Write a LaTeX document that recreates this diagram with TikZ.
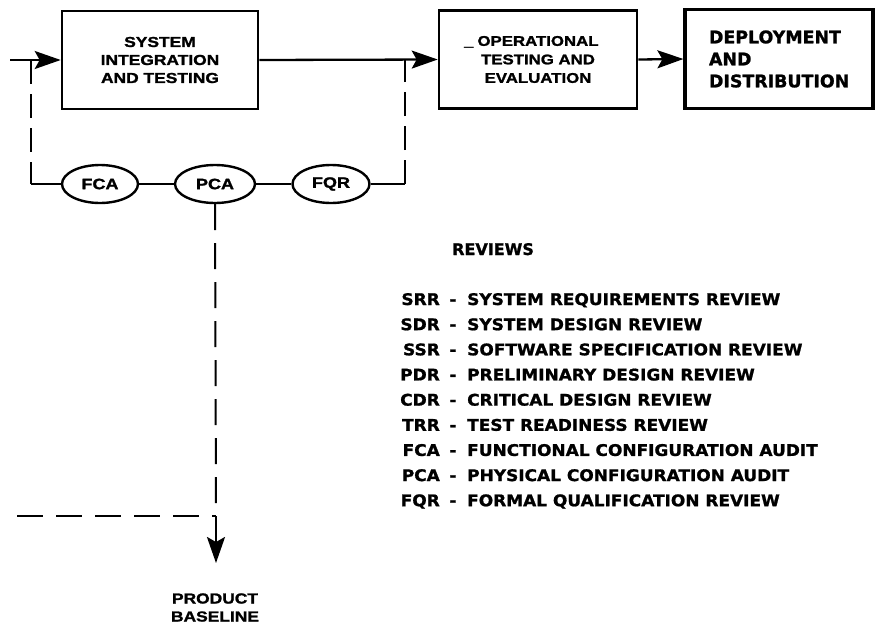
\documentclass[tikz,border=0pt]{standalone}
\usepackage{fontspec}
\setmainfont{Liberation Sans}
\newfontfamily\widefont{Liberation Sans}[FakeStretch=1.2,BoldFeatures={FakeBold=1.5}]
\newfontfamily\djv{DejaVu Sans}[BoldFeatures={FakeBold=1.2}]
\newfontfamily\djvw{DejaVu Sans}[FakeStretch=1.06,BoldFeatures={FakeBold=1.2}]
\usetikzlibrary{arrows.meta,shapes.geometric}
\tikzset{
  conn/.style={line width=2.3pt},
  tip/.style={-{Stealth[length=26pt,width=18pt,inset=5pt]}},
  dashv/.style={line width=2pt,dash pattern=on 24pt off 10pt},
  dashp/.style={line width=2pt,dash pattern=on 26pt off 13pt},
  box/.style={draw,line width=2.6pt,inner sep=0pt,align=center},
  ell/.style={draw,ellipse,line width=2.4pt,inner sep=0pt,minimum height=38pt,
     font=\widefont\bfseries\fontsize{15}{16}\selectfont},
  legfont/.style={inner sep=0pt,font=\djvw\bfseries\fontsize{16}{18}\selectfont},
  legab/.style={legfont,anchor=base east},
  legdash/.style={legfont,anchor=base},
  legtx/.style={legfont,anchor=base west},
}
\begin{document}
\begin{tikzpicture}[x=1pt,y=-1pt]
\useasboundingbox[fill=white] (0,0) rectangle (875,624);
% boxes
\node[box,minimum width=196pt,minimum height=98pt,
  font=\widefont\bfseries\fontsize{14.5}{18}\selectfont] (sit) at (160,60)
  {SYSTEM\\INTEGRATION\\AND TESTING};
\node[box,minimum width=198pt,minimum height=98pt,
  font=\widefont\bfseries\fontsize{14}{18.5}\selectfont] (ote) at (538,59.5)
  {\llap{\_\hspace{4pt}}OPERATIONAL\\TESTING AND\\EVALUATION};
\node[box,line width=3.2pt,minimum height=99pt,text width=140pt,inner xsep=24pt,align=left,
  font=\djv\bfseries\fontsize{17.4}{22}\selectfont] (dd) at (779,59)
  {DEPLOYMENT\\AND\\DISTRIBUTION};
% ellipses
\node[ell,minimum width=76pt] (fca) at (100,184) {FCA};
\node[ell,minimum width=80pt] (pca) at (215,184) {PCA};
\node[ell,minimum width=77pt] (fqr) at (331,184) {FQR};
% coordinates
\coordinate (in) at (10,60);
\coordinate (lj) at (31,60);
\coordinate (lb) at (31,184);
\coordinate (rj) at (405,60);
\coordinate (rb) at (405,184);
\coordinate (pj) at (216,516);
\coordinate (hl) at (17,516);
\coordinate (pt) at (216,563);
% connectors
\draw[conn,tip] (in) -- (sit.west);
\draw[conn,tip] (sit.east) -- (ote.west);
\draw[conn,tip] (ote.east) -- (dd.west);
\draw[dashv] (lj) -- (lb);
\draw[conn] (lb) -- (fca.west);
\draw[conn] (fca.east) -- (pca.west);
\draw[conn] (pca.east) -- (fqr.west);
\draw[conn] (fqr.east) -- (rb);
\draw[dashv] (rb) -- (rj);
\draw[dashp] (pca.south) -- (pj);
\draw[dashp] (hl) -- (pj);
\draw[conn,tip] (pj) -- (pt);
% product baseline
\node[inner sep=0pt,align=center,font=\widefont\bfseries\fontsize{14.5}{18}\selectfont]
  (pb) at (215,607.5) {PRODUCT\\BASELINE};
% legend
\node[legfont,anchor=base west,font=\djv\bfseries\fontsize{16}{18}\selectfont]
  (rev) at (452,255) {REVIEWS};
\foreach \a/\d [count=\i from 0] in {
  SRR/SYSTEM REQUIREMENTS REVIEW,
  SDR/SYSTEM DESIGN REVIEW,
  SSR/SOFTWARE SPECIFICATION REVIEW,
  PDR/PRELIMINARY DESIGN REVIEW,
  CDR/CRITICAL DESIGN REVIEW,
  TRR/TEST READINESS REVIEW,
  FCA/FUNCTIONAL CONFIGURATION AUDIT,
  PCA/PHYSICAL CONFIGURATION AUDIT,
  FQR/FORMAL QUALIFICATION REVIEW}{
  \node[legab] (ab\i) at (440,{305+25.15*\i}) {\a};
  \node[legdash] (dh\i) at (453,{305+25.15*\i}) {-};
  \node[legtx] (ds\i) at (467,{305+25.15*\i}) {\d};
}
\end{tikzpicture}
\end{document}
